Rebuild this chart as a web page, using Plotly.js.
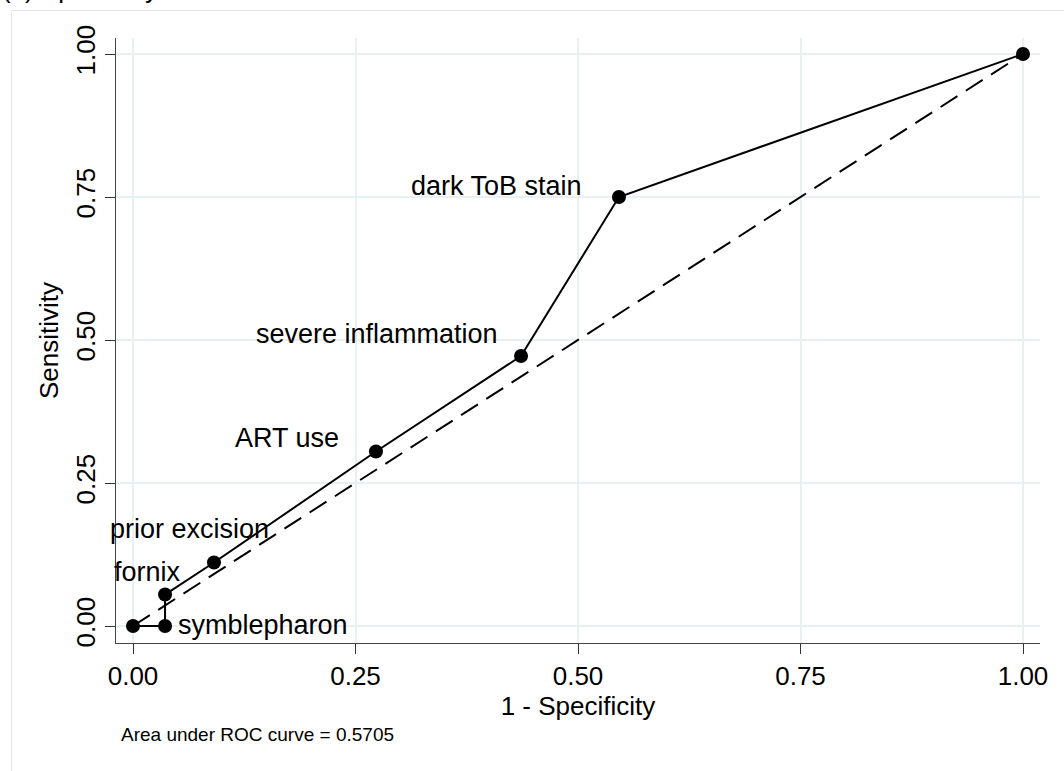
<!DOCTYPE html>
<html>
<head>
<meta charset="utf-8">
<script src="https://cdn.plot.ly/plotly-3.0.1.min.js"></script>
<style>
  html, body { margin: 0; padding: 0; background: #ffffff; }
  #chart { width: 1064px; height: 771px; }
</style>
</head>
<body>
<div id="chart"></div>
<script>
// ---- data ----
const falsePositiveRate = [0, 0.036, 0.036, 0.091, 0.273, 0.436, 0.546, 1];
const sensitivity = [0, 0, 0.055, 0.111, 0.305, 0.472, 0.750, 1];
const pointLabels = ['', 'symblepharon', 'fornix', 'prior excision', 'ART use', 'severe inflammation', 'dark ToB stain', ''];
const referenceX = [0, 1];
const referenceY = [0, 1];
const tickValues = [0, 0.25, 0.5, 0.75, 1];
const tickLabels = ['0.00', '0.25', '0.50', '0.75', '1.00'];
const areaText = 'Area under ROC curve = 0.5705';
const panelTitle = '(b) Specificity';
const xTitle = '1 - Specificity';
const yTitle = 'Sensitivity';

// ---- label placement styles (pixel offsets from each point) ----
const labelStyle = {
  'symblepharon':        { xanchor: 'left',  dx: 11,  dy: 1 },
  'fornix':              { xanchor: 'right', dx: 18,  dy: 23 },
  'prior excision':      { xanchor: 'right', dx: 57,  dy: 34 },
  'ART use':             { xanchor: 'right', dx: -35, dy: 14 },
  'severe inflammation': { xanchor: 'right', dx: -21, dy: 22 },
  'dark ToB stain':      { xanchor: 'right', dx: -35, dy: 11 }
};

const FONT = '"Liberation Sans", Arial, Helvetica, sans-serif';

const traces = [
  {
    x: referenceX, y: referenceY, type: 'scatter', mode: 'lines',
    line: { color: '#000000', width: 2, dash: '20px,10px' },
    hoverinfo: 'skip', showlegend: false
  },
  {
    x: falsePositiveRate, y: sensitivity, type: 'scatter', mode: 'lines+markers',
    line: { color: '#000000', width: 2 },
    marker: { color: '#000000', size: 14 },
    showlegend: false
  }
];

const annotations = [];
pointLabels.forEach((lab, i) => {
  if (!lab) return;
  const s = labelStyle[lab];
  annotations.push({
    x: falsePositiveRate[i], y: sensitivity[i], xref: 'x', yref: 'y',
    text: lab, showarrow: false, xanchor: s.xanchor, yanchor: 'middle',
    xshift: s.dx, yshift: s.dy,
    font: { family: FONT, size: 27, color: '#000000' }
  });
});
annotations.push({
  xref: 'paper', yref: 'paper', x: 0.0032, y: -0.1515,
  xanchor: 'left', yanchor: 'middle', showarrow: false,
  text: areaText, font: { family: FONT, size: 19, color: '#000000' }
});
annotations.push({
  xref: 'paper', yref: 'paper', x: -0.1255, y: 1.0532,
  xanchor: 'left', yanchor: 'bottom', showarrow: false,
  text: panelTitle, font: { family: FONT, size: 26, color: '#000000' }
});

const layout = {
  width: 1064, height: 771,
  margin: { l: 116, r: 24, t: 38, b: 128, pad: 0 },
  paper_bgcolor: '#ffffff', plot_bgcolor: '#ffffff',
  font: { family: FONT, size: 26, color: '#000000' },
  xaxis: {
    range: [-0.0191, 1.0191],
    tickmode: 'array', tickvals: tickValues, ticktext: tickLabels,
    ticks: 'outside', ticklen: 10, tickwidth: 1, tickcolor: '#333333',
    showline: true, linecolor: '#444444', linewidth: 1,
    showgrid: true, gridcolor: '#e8f0f2', gridwidth: 2,
    zeroline: false, mirror: false,
    tickfont: { family: FONT, size: 26, color: '#000000' },
    title: { text: xTitle, font: { family: FONT, size: 26, color: '#000000' }, standoff: 0 },
    automargin: false, fixedrange: true
  },
  yaxis: {
    range: [-0.0297, 1.028],
    tickmode: 'array', tickvals: tickValues, ticktext: tickLabels,
    tickangle: -90,
    ticks: 'outside', ticklen: 10, tickwidth: 1, tickcolor: '#333333',
    showline: true, linecolor: '#444444', linewidth: 1,
    showgrid: true, gridcolor: '#e8f0f2', gridwidth: 2,
    zeroline: false, mirror: false,
    tickfont: { family: FONT, size: 26, color: '#000000' },
    title: { text: yTitle, font: { family: FONT, size: 26, color: '#000000' }, standoff: 4 },
    automargin: false, fixedrange: true
  },
  shapes: [{
    type: 'rect', xref: 'paper', yref: 'paper', layer: 'below',
    x0: -0.1131, x1: 1.065, y0: -0.2595, y1: 1.0455,
    line: { color: '#e6e6e6', width: 1 }, fillcolor: 'rgba(0,0,0,0)'
  }],
  annotations: annotations,
  showlegend: false
};

Plotly.newPlot('chart', traces, layout, { displayModeBar: false, staticPlot: true });
</script>
</body>
</html>
